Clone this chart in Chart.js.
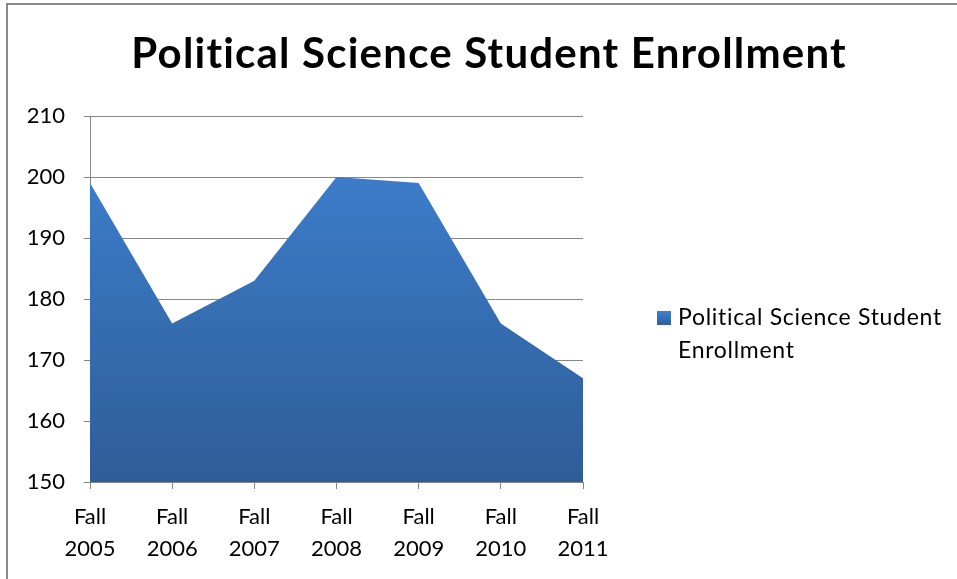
<!DOCTYPE html>
<html>
<head>
<meta charset="utf-8">
<script src="https://cdn.jsdelivr.net/npm/chart.js@4/dist/chart.umd.min.js"></script>
<style>
    html, body { margin: 0; padding: 0; background: #ffffff; overflow: hidden; }
    #wrap { position: relative; width: 957px; height: 579px; }
    #frame {
        position: absolute; left: 6px; top: 3px; width: 1000px; height: 700px;
        border-top: 2px solid #8a8a8a; border-left: 2px solid #8a8a8a;
        box-sizing: border-box; pointer-events: none;
    }
    #chart { position: absolute; left: 0; top: 0; }
    #legend {
        position: absolute; left: 657px; top: 300px; width: 298px;
        font-family: Lato, 'Open Sans', sans-serif; font-size: 23px; color: #000;
        line-height: 33px; letter-spacing: 0.7px;
    }
    #legend .item { display: flex; align-items: flex-start; }
    #legend .box { width: 14px; height: 14px; margin: 11px 7px 0 0; flex: none; }
</style>
</head>
<body>
<div id="wrap">
    <canvas id="chart" width="957" height="579"></canvas>
    <div id="frame"></div>
    <div id="legend"></div>
</div>
<script>
// Данные графика
const chartTitle = 'Political Science Student Enrollment';
const terms = ['Fall', 'Fall', 'Fall', 'Fall', 'Fall', 'Fall', 'Fall'];
const years = ['2005', '2006', '2007', '2008', '2009', '2010', '2011'];
const enrollment = [199, 176, 183, 200, 199, 176, 167];
const yTicks = [150, 160, 170, 180, 190, 200, 210];

const fontFamily = "Lato, 'Open Sans', sans-serif";
const gridColor = '#868686';

function areaFill(context) {
    const area = context.chart.chartArea;
    if (!area) return '#3a74c0';
    const g = context.chart.ctx.createLinearGradient(0, area.top, 0, area.bottom);
    g.addColorStop(0, '#3e82d2');
    g.addColorStop(1, '#2f5d98');
    return g;
}

// Заголовок по центру всего холста, растянутый до ширины оригинала
const titlePlugin = {
    id: 'centerTitle',
    afterDraw(chart) {
        const ctx = chart.ctx;
        ctx.save();
        ctx.font = 'bold 42px ' + fontFamily;
        ctx.fillStyle = '#000000';
        ctx.textBaseline = 'alphabetic';
        ctx.textAlign = 'left';
        const w = ctx.measureText(chartTitle).width;
        const spacing = Math.max(0, (715 - w) / (chartTitle.length - 1));
        ctx.letterSpacing = spacing + 'px';
        const total = ctx.measureText(chartTitle).width - spacing;
        ctx.fillText(chartTitle, chart.width / 2 + 10 - total / 2, 68);
        ctx.restore();
    }
};

const labels = years.map((y, i) => [terms[i], y]);

const chart = new Chart(document.getElementById('chart').getContext('2d'), {
    type: 'line',
    data: {
        labels: labels,
        datasets: [{
            label: chartTitle,
            data: enrollment,
            fill: 'start',
            backgroundColor: areaFill,
            borderWidth: 0,
            borderColor: 'rgba(0,0,0,0)',
            pointRadius: 0,
            tension: 0
        }]
    },
    options: {
        responsive: false,
        animation: false,
        layout: { padding: { left: 0, right: 374, top: 116, bottom: 0 } },
        plugins: {
            legend: { display: false },
            tooltip: { enabled: false },
            title: { display: false }
        },
        scales: {
            x: {
                offset: false,
                grid: { drawOnChartArea: false, drawTicks: true, tickLength: 7, color: gridColor },
                border: { color: gridColor, width: 1 },
                ticks: {
                    color: '#000000',
                    font: { family: fontFamily, size: 22, lineHeight: 1.45 },
                    padding: 12,
                    maxRotation: 0,
                    autoSkip: false
                },
                afterFit: function(scale) { scale.height = 97; }
            },
            y: {
                min: yTicks[0],
                max: yTicks[yTicks.length - 1],
                afterBuildTicks: function(scale) {
                    scale.ticks = yTicks.map(v => ({ value: v }));
                },
                grid: { color: gridColor, tickLength: 6, lineWidth: 1 },
                border: { color: gridColor, width: 1 },
                ticks: {
                    color: '#000000',
                    font: { family: fontFamily, size: 22 },
                    padding: 19
                },
                afterFit: function(scale) { scale.width = 90; }
            }
        }
    },
    plugins: [titlePlugin]
});

// Легенда в HTML, чтобы текст переносился как в оригинале
const legendEl = document.getElementById('legend');
chart.data.datasets.forEach(ds => {
    const item = document.createElement('div');
    item.className = 'item';
    const box = document.createElement('span');
    box.className = 'box';
    box.style.background = 'linear-gradient(#3e82d2, #2f5d98)';
    const text = document.createElement('span');
    text.textContent = ds.label;
    item.appendChild(box);
    item.appendChild(text);
    legendEl.appendChild(item);
});
</script>
</body>
</html>
